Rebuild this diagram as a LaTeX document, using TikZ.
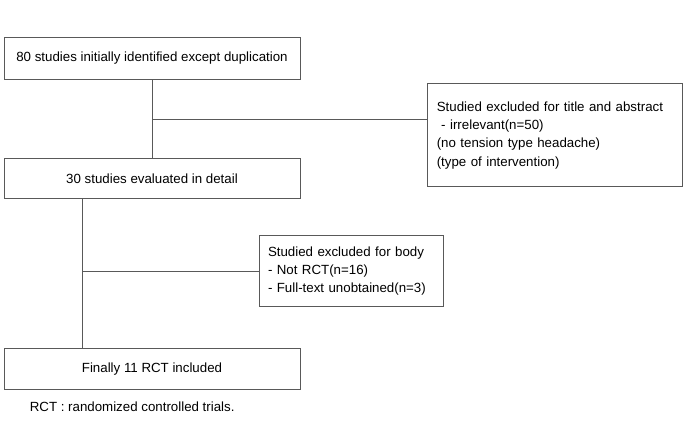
\documentclass[tikz,border=0pt]{standalone}
\usepackage{fontspec}
\setmainfont{Liberation Sans}
\usetikzlibrary{positioning}

\begin{document}
\begin{tikzpicture}[
    box/.style={draw=black!65, line width=0.8pt, minimum width=296pt, inner sep=0pt},
    note/.style={draw=black!65, line width=0.8pt, align=left, inner xsep=9pt, inner ysep=0pt},
    link/.style={draw=black!65, line width=0.8pt},
    font=\fontsize{13.3}{18.3}\selectfont]

    \useasboundingbox (0,0) rectangle (697pt,-422pt);

    \node(B1)[box, minimum height=42pt] at (152pt,-58pt) {80 studies initially identified except duplication};
    \node(B2)[box, minimum height=40pt, below=79pt of B1]{30 studies evaluated in detail};
    \node(B4)[box, minimum height=41pt, below=149pt of B2]{Finally 11 RCT included};

    \coordinate[below=40pt of B1.south] (J1);
    \coordinate[below=72pt of B2.south west, xshift=79pt] (J2);

    \node(R1)[note, text width=237pt, minimum height=103pt, below right=4pt and 127pt of B1]{Studied excluded for title and abstract\\
        \ - irrelevant(n=50)\\
        (no tension type headache)\\
        (type of intervention)};
    \node(R3)[note, text width=166pt, minimum height=71pt, right=176pt of J2]{Studied excluded for body\\
        - Not RCT(n=16)\\
        - Full-text unobtained(n=3)};

    \node(FN)[inner sep=0pt, below right=12pt and 26pt of B4.south west]{RCT : randomized controlled trials.};

    \draw[link] (B1) -- (B2);
    \draw[link] (J1) -- (J1 -| R1.west);
    \draw[link] (J2 |- B2.south) -- (J2 |- B4.north);
    \draw[link] (J2) -- (R3);

\end{tikzpicture}
\end{document}
